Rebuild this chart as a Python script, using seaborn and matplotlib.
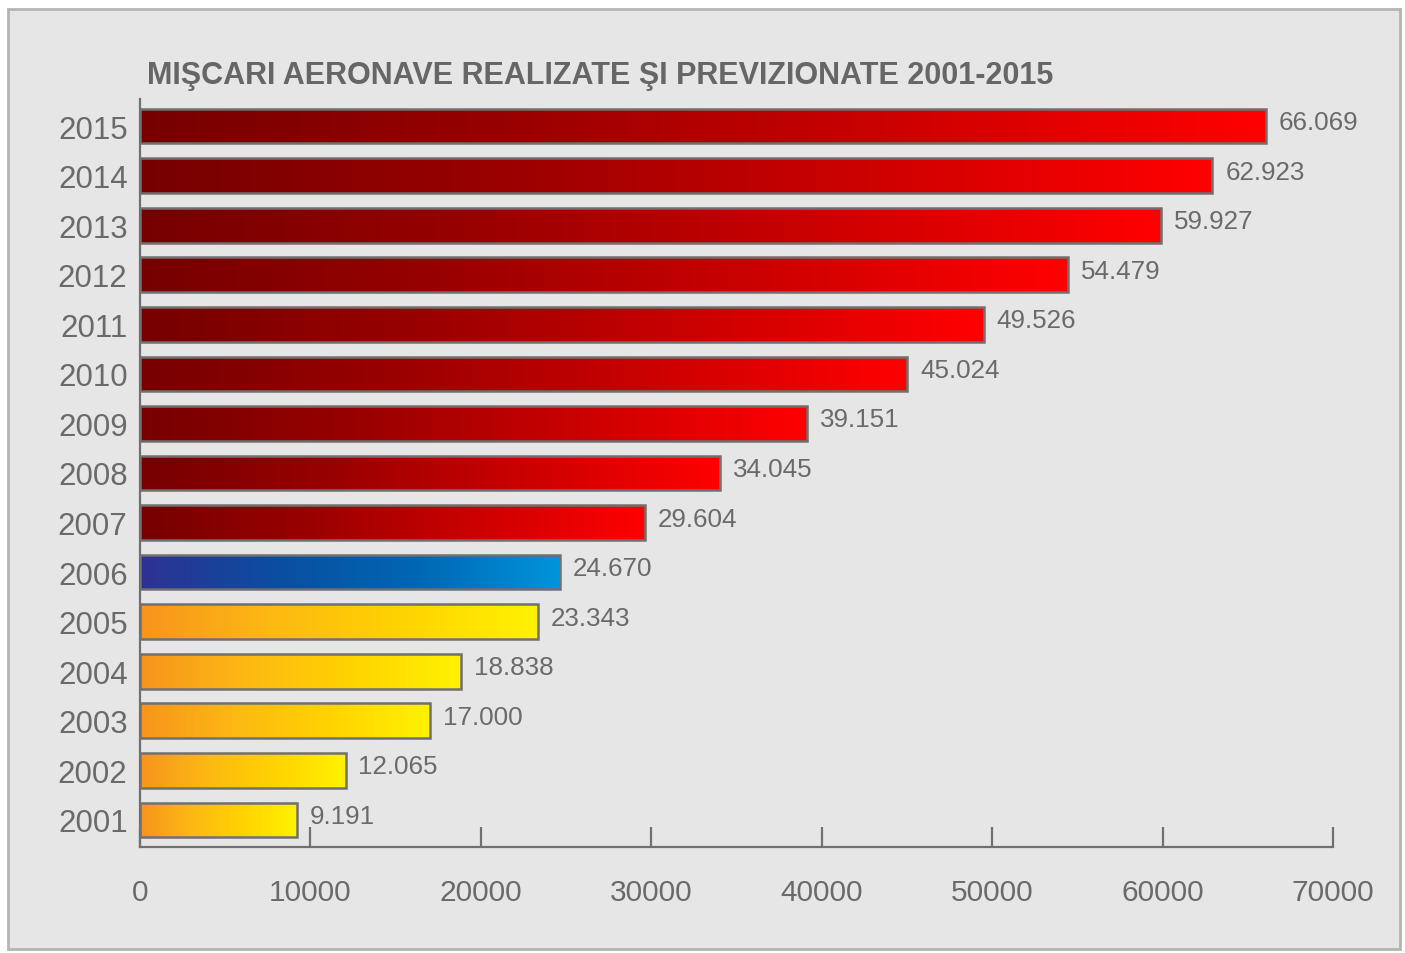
import numpy as np
import pandas as pd
import matplotlib
matplotlib.use("Agg")
import matplotlib.pyplot as plt
from matplotlib.colors import LinearSegmentedColormap
from matplotlib.patches import Rectangle
import seaborn as sns

years = ["2001", "2002", "2003", "2004", "2005", "2006", "2007", "2008",
         "2009", "2010", "2011", "2012", "2013", "2014", "2015"]
movements = [9191, 12065, 17000, 18838, 23343, 24670, 29604, 34045,
             39151, 45024, 49526, 54479, 59927, 62923, 66069]
groups = ["yellow", "yellow", "yellow", "yellow", "yellow", "blue",
          "red", "red", "red", "red", "red", "red", "red", "red", "red"]
x_ticks = [0, 10000, 20000, 30000, 40000, 50000, 60000, 70000]
title = "MIŞCARI AERONAVE REALIZATE ŞI PREVIZIONATE 2001-2015"

gradients = {
    "red": LinearSegmentedColormap.from_list("red", ["#760000", "#9a0000", "#cc0000", "#ff0000"]),
    "blue": LinearSegmentedColormap.from_list("blue", ["#2e3192", "#0a4fa0", "#0067b4", "#0095da"]),
    "yellow": LinearSegmentedColormap.from_list("yellow", ["#f7941d", "#fdb913", "#ffd400", "#fff200"]),
}

df = pd.DataFrame({"year": years, "value": movements, "group": groups})
order = years[::-1]

sns.set_theme(style="white")
plt.rcParams["font.family"] = ["Liberation Sans", "DejaVu Sans"]

fig = plt.figure(figsize=(14.05, 9.54), dpi=100, facecolor="white")
fig.patches.append(Rectangle((8 / 1405, 1 - 950 / 954), 1392 / 1405, 940 / 954,
                             transform=fig.transFigure, facecolor="#e6e6e6",
                             edgecolor="#b4b4b4", linewidth=2, zorder=-1))
ax = fig.add_axes([140 / 1405, 1 - 848 / 954, 1193 / 1405, 748 / 954])
ax.set_zorder(1)
ax.set_facecolor("none")

sns.barplot(data=df, x="value", y="year", order=order, orient="h",
            width=0.7, color="#cc0000", edgecolor="#707070", linewidth=1.8, ax=ax)

# horizontal gradient fill for every bar, clipped to the bar outline
ramp = np.linspace(0, 1, 256).reshape(1, -1)
lookup = dict(zip(years, zip(movements, groups)))
for patch, yr in zip(ax.patches, order):
    val, grp = lookup[yr]
    x0, y0 = patch.get_x(), patch.get_y()
    w, h = patch.get_width(), patch.get_height()
    im = ax.imshow(ramp, cmap=gradients[grp], aspect="auto",
                   extent=[x0, x0 + w, y0 + h, y0], zorder=1.5, interpolation="bicubic")
    im.set_clip_path(patch)
    patch.set_facecolor("none")
    patch.set_zorder(2)
    ax.text(val + 750, y0 + h / 2 - 0.08, f"{val:,}".replace(",", "."),
            ha="left", va="center", fontsize=18.7, color="#6a6a6a")

ax.set_xlim(0, 70000)
ax.set_ylim(14.545, -0.545)
ax.set_xticks(x_ticks)
ax.set_xticklabels([str(t) for t in x_ticks])
ax.set_xlabel("")
ax.set_ylabel("")

for side in ["top", "right"]:
    ax.spines[side].set_visible(False)
for side in ["left", "bottom"]:
    ax.spines[side].set_color("#707070")
    ax.spines[side].set_linewidth(1.6)

ax.tick_params(axis="x", direction="in", length=14.5, width=1.6, color="#707070",
               pad=22, labelsize=21.5, labelcolor="#6a6a6a", bottom=True)
ax.tick_params(axis="y", length=0, pad=9, labelsize=22.5, labelcolor="#6a6a6a")

fig.text(147 / 1405, 1 - 76 / 954, title, ha="left", va="center",
         fontsize=22, fontweight="bold", color="#666666")

fig.savefig("out.png", dpi=100, facecolor=fig.get_facecolor())
